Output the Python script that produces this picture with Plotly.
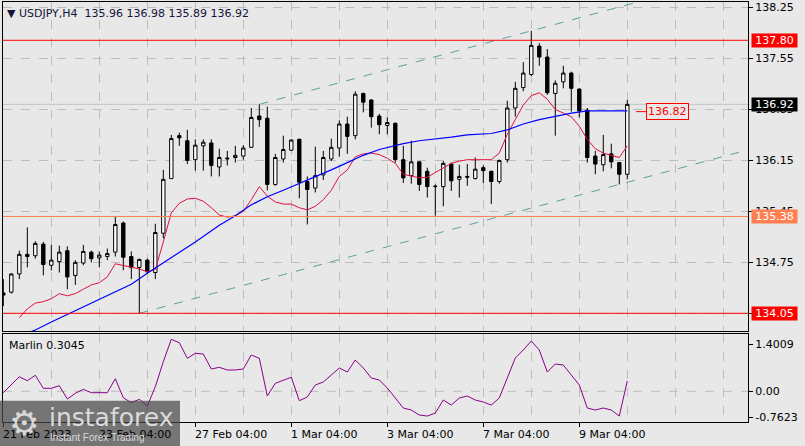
import plotly.graph_objects as go

# ---------------- data ----------------
bars = list(range(79))
opens = [134.33,134.34,134.59,134.86,134.84,135.00,134.71,134.76,134.91,134.57,
         134.74,134.89,134.81,134.83,134.89,135.29,134.83,134.68,134.78,134.61,
         135.15,135.90,136.49,136.42,136.16,136.35,136.39,136.06,136.17,136.19,
         136.21,136.33,136.76,136.73,135.82,136.17,136.29,136.44,135.86,135.77,
         135.95,136.17,136.32,136.65,136.49,137.07,136.98,136.76,136.63,136.66,
         136.16,135.94,136.13,136.00,135.79,135.79,136.10,135.89,135.93,135.90,
         136.05,136.00,135.86,136.16,136.87,137.15,137.33,137.72,137.57,137.07,
         137.23,137.35,137.13,136.84,136.21,136.09,136.24,136.12,135.96]
highs = [134.52,134.60,134.91,135.23,135.04,135.03,134.99,134.98,134.97,134.78,
         134.99,134.91,134.90,134.94,135.38,135.31,134.90,134.80,134.80,135.28,
         136.02,136.50,136.53,136.57,136.44,136.44,136.44,136.31,136.28,136.35,
         136.36,136.87,136.92,136.89,136.24,136.49,136.44,136.45,135.93,136.34,
         136.28,136.45,136.70,136.75,137.10,137.08,136.99,136.79,136.74,136.67,
         136.35,136.42,136.14,136.05,135.82,136.14,136.12,136.09,136.10,136.19,
         136.08,136.01,136.16,136.97,137.23,137.50,137.93,137.76,137.68,137.25,
         137.45,137.37,137.14,136.87,136.28,136.50,136.38,136.13,136.98]
lows = [134.15,134.32,134.52,134.68,134.80,134.57,134.64,134.61,134.38,134.44,
        134.71,134.75,134.68,134.78,134.83,134.64,134.52,134.05,134.59,134.52,
        135.08,135.90,136.35,136.10,136.01,136.01,135.93,135.93,136.08,136.12,
        136.16,136.32,136.61,135.74,135.80,136.12,136.28,135.63,135.27,135.71,
        135.88,136.14,136.20,136.24,136.44,136.81,136.60,136.51,136.51,136.12,
        135.84,135.83,135.73,135.64,135.39,135.52,135.73,135.64,135.80,135.89,
        135.84,135.55,135.83,136.12,136.75,137.10,137.31,137.45,137.05,136.49,
        137.14,136.82,136.74,136.12,135.96,136.00,136.04,135.82,135.89]
closes = [134.30,134.59,134.86,134.83,135.01,134.72,134.78,134.89,134.55,134.75,
          134.90,134.80,134.85,134.87,135.27,134.82,134.68,134.79,134.62,135.16,
          135.89,136.45,136.46,136.15,136.36,136.40,136.08,136.19,136.18,136.22,
          136.32,136.74,136.71,135.82,136.19,136.30,136.43,135.85,135.75,135.94,
          136.19,136.33,136.65,136.48,137.06,136.95,136.75,136.64,136.67,136.16,
          135.91,136.13,135.82,135.79,135.795,136.11,135.87,135.93,135.92,136.03,
          136.01,135.86,136.15,136.87,137.14,137.35,137.73,137.57,137.08,137.21,
          137.35,137.14,136.83,136.19,136.10,136.23,136.13,135.96,136.92]

red_ma_bars = list(range(2, 79))
red_ma = [133.99,134.11,134.19,134.21,134.25,134.32,134.29,134.32,134.38,134.44,
          134.47,134.55,134.73,134.71,134.69,134.66,134.62,134.65,135.03,135.43,
          135.56,135.62,135.63,135.59,135.50,135.40,135.37,135.39,135.45,135.61,
          135.79,135.66,135.58,135.55,135.55,135.50,135.47,135.52,135.61,135.74,
          135.93,136.02,136.20,136.24,136.25,136.23,136.18,136.11,135.96,135.93,
          135.91,135.92,135.98,136.05,136.11,136.14,136.16,136.16,136.16,136.16,
          136.25,136.51,136.71,136.91,137.04,137.08,136.99,136.85,136.80,136.75,
          136.62,136.44,136.31,136.25,136.22,136.19,136.35]

blue_ma_bars = [3,4,6,10,13,16,18,20,22,24,27,29,31,33,35,37,39,41,43,45,47,50,52,
                54,56,58,61,63,65,67,69,71,73,75,77,78]
blue_ma = [133.78,133.82,133.93,134.14,134.30,134.45,134.60,134.74,134.89,135.03,
           135.26,135.39,135.54,135.65,135.74,135.83,135.92,136.02,136.12,136.22,
           136.30,136.38,136.42,136.44,136.47,136.50,136.52,136.57,136.65,136.71,
           136.76,136.80,136.83,136.83,136.82,136.83]

marlin = [-0.041,0.187,0.432,0.314,0.474,0.089,0.089,0.166,-0.228,-0.059,
          0.059,-0.041,-0.041,-0.041,0.373,-0.190,-0.338,-0.237,-0.435,0.136,
          0.877,1.540,1.440,0.977,1.126,1.105,0.661,0.711,0.631,0.631,
          0.661,1.075,0.977,-0.139,0.237,0.326,0.415,-0.278,-0.169,0.187,
          0.275,0.483,0.690,0.571,0.927,0.690,0.394,0.335,0.098,-0.198,
          -0.495,-0.554,-0.702,-0.732,-0.643,-0.258,-0.406,-0.198,-0.139,-0.258,
          -0.317,-0.406,-0.198,0.394,0.986,1.223,1.490,1.223,0.571,0.808,
          0.779,0.483,0.187,-0.495,-0.554,-0.495,-0.554,-0.732,0.3045]

# channel anchors (bar, price)
lower_ch_bars = [17, 77]
lower_ch_prices = [134.05, 135.82]
upper_ch_bars = [32, 66]
upper_ch_prices = [136.92, 137.93]

level_red_hi = 137.80
level_orange = 135.38
level_red_lo = 134.05
bid_price = 136.92
ma_label = 136.82

price_ticks = [134.05, 134.75, 135.45, 136.15, 136.85, 137.55, 138.25]
price_ticktext = ["", "134.75", "135.45", "136.15", "136.85", "137.55", "138.25"]
ind_ticks = [1.4009, 0.0, -0.7623]
ind_ticktext = ["1.4009", "0.00", "-0.7623"]
date_tick_bars = [0, 12, 24, 36, 48, 60, 72]
date_tick_text = ["21 Feb 2023", "23 Feb 04:00", "27 Feb 04:00", "1 Mar 04:00",
                  "3 Mar 04:00", "7 Mar 04:00", "9 Mar 04:00"]

# ---------------- figure ----------------
BG = "#E8E8E8"
GRID = "#BDBDBD"
FONT = "DejaVu Sans"
X_RANGE = [-0.04, 93.09]

fig = go.Figure()

fig.add_trace(go.Candlestick(
    x=bars, open=opens, high=highs, low=lows, close=closes,
    increasing=dict(line=dict(color="black", width=1), fillcolor="white"),
    decreasing=dict(line=dict(color="black", width=1), fillcolor="black"),
    whiskerwidth=0, xaxis="x", yaxis="y", hoverinfo="skip"))

fig.add_trace(go.Scatter(x=red_ma_bars, y=red_ma, mode="lines",
                         line=dict(color="#E0103C", width=1), xaxis="x", yaxis="y"))
fig.add_trace(go.Scatter(x=blue_ma_bars, y=blue_ma, mode="lines",
                         line=dict(color="#0000FF", width=1.2), xaxis="x", yaxis="y"))

# channel lines extended to the right edge
def ext(bx, py):
    slope = (py[1] - py[0]) / (bx[1] - bx[0])
    return [bx[0], X_RANGE[1]], [py[0], py[0] + slope * (X_RANGE[1] - bx[0])]

for bx, py in [(lower_ch_bars, lower_ch_prices), (upper_ch_bars, upper_ch_prices)]:
    xs, ys = ext(bx, py)
    fig.add_trace(go.Scatter(x=xs, y=ys, mode="lines",
                             line=dict(color="#5F9EA0", width=1, dash="dash"),
                             xaxis="x", yaxis="y"))

fig.add_trace(go.Scatter(x=bars, y=marlin, mode="lines",
                         line=dict(color="#8B008B", width=1), xaxis="x2", yaxis="y2"))

shapes = []
for lvl, col in [(level_red_hi, "#FF0000"), (level_orange, "#FF7F50"), (level_red_lo, "#FF0000")]:
    shapes.append(dict(type="line", xref="x domain", yref="y", x0=0, x1=1, y0=lvl, y1=lvl,
                       line=dict(color=col, width=1)))
shapes.append(dict(type="line", xref="x domain", yref="y", x0=0, x1=1, y0=bid_price, y1=bid_price,
                   line=dict(color="#C4C4C4", width=1), layer="below"))
shapes.append(dict(type="line", xref="x2 domain", yref="y2", x0=0, x1=1, y0=0, y1=0,
                   line=dict(color=GRID, width=1, dash="dash"), layer="below"))
shapes.append(dict(type="line", xref="x", yref="y", x0=79.1, x1=80.4, y0=ma_label, y1=ma_label,
                   line=dict(color="#FF0000", width=1)))
# watermark box
shapes.append(dict(type="rect", xref="paper", yref="paper",
                   x0=-0.005, x1=0.2376, y0=-0.058, y1=0.0507,
                   fillcolor="rgba(72,72,72,0.72)", line=dict(width=0), layer="above"))

annotations = []
# right-side price labels
for lvl, bg in [(level_red_hi, "#FF0000"), (bid_price, "#000000"),
                (level_orange, "#FF7F50"), (level_red_lo, "#FF0000")]:
    annotations.append(dict(xref="paper", yref="y", x=1, y=lvl, xanchor="left", yanchor="middle",
                            xshift=3, text=f"{lvl:.2f}", showarrow=False,
                            font=dict(family=FONT, size=11, color="white"),
                            bgcolor=bg, width=44, height=12, borderpad=0.5))
annotations.append(dict(xref="x", yref="y", x=80.4, y=ma_label, xanchor="left", yanchor="middle",
                        text=f"{ma_label:.2f}", showarrow=False,
                        font=dict(family=FONT, size=11, color="#FF0000"),
                        bgcolor=BG, bordercolor="#FF0000", borderwidth=1, borderpad=1))
# title
annotations.append(dict(xref="paper", yref="paper", x=0.0027, y=0.9738, xanchor="left", yanchor="middle",
                        text="▼ USDJPY,H4  135.96 136.98 135.89 136.92", showarrow=False,
                        font=dict(family=FONT, size=11, color="#14143C")))
annotations.append(dict(xref="paper", yref="paper", x=0.0054, y=0.183, xanchor="left", yanchor="middle",
                        text="Marlin 0.3045", showarrow=False,
                        font=dict(family=FONT, size=11, color="black")))
# date labels (left aligned at tick)
for b, t in zip(date_tick_bars, date_tick_text):
    annotations.append(dict(xref="x2", yref="paper", x=b, y=0, xanchor="left", yanchor="top",
                            yshift=-4, xshift=-2, text=t, showarrow=False,
                            font=dict(family=FONT, size=11, color="black")))
# watermark text
annotations.append(dict(xref="paper", yref="paper", x=0.0285, y=-0.003, xanchor="center", yanchor="middle",
                        text="⚙", showarrow=False, font=dict(family=FONT, size=34, color="#D8D8D8")))
annotations.append(dict(xref="paper", yref="paper", x=0.059, y=0.01, xanchor="left", yanchor="middle",
                        text="instaforex", showarrow=False, font=dict(family=FONT, size=25, color="#DADADA")))
annotations.append(dict(xref="paper", yref="paper", x=0.061, y=-0.036, xanchor="left", yanchor="middle",
                        text="Instant Forex Trading", showarrow=False,
                        font=dict(family="Liberation Sans", size=10, color="#DADADA")))

axis_common = dict(showline=True, linecolor="black", linewidth=1, mirror=True,
                   zeroline=False, tickfont=dict(family=FONT, size=11, color="black"))

fig.update_layout(
    width=805, height=446, autosize=False,
    margin=dict(l=3, r=57, t=2, b=24),
    paper_bgcolor=BG, plot_bgcolor=BG, showlegend=False,
    shapes=shapes, annotations=annotations, boxgap=0.4,
    xaxis=dict(domain=[0, 1], anchor="y", range=X_RANGE, rangeslider=dict(visible=False),
               tickmode="array", tickvals=date_tick_bars, showticklabels=False, ticks="",
               showgrid=True, gridcolor=GRID, griddash="dash", gridwidth=1,
               minor=dict(tickmode="linear", tick0=0, dtick=6, showgrid=True, gridcolor=GRID,
                          griddash="dash", ticks=""),
               **axis_common),
    yaxis=dict(domain=[0.2167, 1], anchor="x", side="right", range=[133.807, 138.326],
               tickmode="array", tickvals=price_ticks, ticktext=price_ticktext,
               ticks="outside", ticklen=4, tickcolor="black",
               showgrid=True, gridcolor=GRID, griddash="dash", **axis_common),
    xaxis2=dict(domain=[0, 1], anchor="y2", range=X_RANGE, matches="x",
                tickmode="array", tickvals=date_tick_bars, ticktext=[""] * len(date_tick_bars),
                ticks="outside", ticklen=4, tickcolor="black",
                showgrid=True, gridcolor=GRID, griddash="dash",
                minor=dict(tickmode="linear", tick0=0, dtick=6, showgrid=True, gridcolor=GRID,
                           griddash="dash", ticks=""),
                **axis_common),
    yaxis2=dict(domain=[0, 0.2095], anchor="x2", side="right", range=[-0.909, 1.697],
                tickmode="array", tickvals=ind_ticks, ticktext=ind_ticktext,
                ticks="outside", ticklen=4, tickcolor="black", showgrid=False, **axis_common),
)

fig.write_html("out.html", config={"displayModeBar": False, "staticPlot": True},
               post_script="document.body.style.margin='0';")
